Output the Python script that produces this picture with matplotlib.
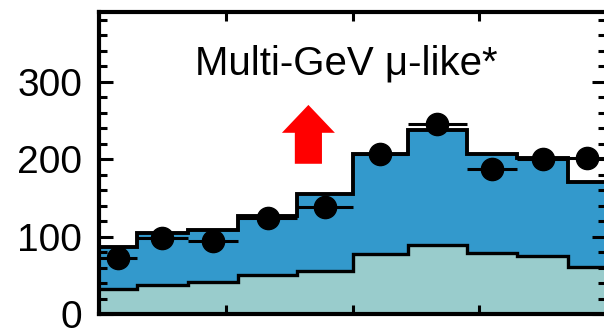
import matplotlib
matplotlib.use("Agg")
import matplotlib.pyplot as plt
from matplotlib.patches import FancyArrow
from matplotlib.ticker import MultipleLocator
import numpy as np

plt.rcParams['font.family'] = ['Liberation Sans', 'DejaVu Sans']

# bin edges in cos(zenith)
edges = [-1.0, -0.85, -0.65, -0.45, -0.22, 0.0, 0.22, 0.45, 0.65, 0.85, 1.0]
mc_total = [87, 104, 108, 127, 155, 206, 238, 207, 202, 170]
mc_lower = [32, 38, 41, 50, 55, 78, 89, 79, 75, 61]
data_vals = [72, 98, 94, 124, 138, 206, 245, 187, 200, 201]
ytick_vals = [0, 100, 200, 300]
title = "Multi-GeV \u03bc-like*"

BLUE = "#3399cc"
TEAL = "#99cccc"

W, H = 604, 331
fig = plt.figure(figsize=(W / 100, H / 100), dpi=100)
ax = fig.add_axes([99 / W, (H - 314) / H, (606 - 99) / W, (314 - 12) / H])

edges_a = np.array(edges)
centers = (edges_a[:-1] + edges_a[1:]) / 2
halfw = (edges_a[1:] - edges_a[:-1]) / 2

ax.stairs(mc_total, edges, baseline=mc_lower, fill=True, color=BLUE, lw=0, zorder=1)
ax.stairs(mc_lower, edges, baseline=0, fill=True, color=TEAL, lw=0, zorder=1)
ax.stairs(mc_total, edges, baseline=None, color="black", lw=2.8, zorder=2)
ax.stairs(mc_lower, edges, baseline=None, color="black", lw=2.4, zorder=2)

ax.errorbar(centers, data_vals, xerr=halfw, fmt="o", color="black",
            ms=16, elinewidth=2.2, capsize=0, zorder=4)

ax.text(-0.024, 309, title, ha="center", va="baseline", fontsize=29, zorder=5)

arrow = FancyArrow(-0.174, 194, 0, 76, width=0.107, head_width=0.209,
                   head_length=36, length_includes_head=True,
                   color="#ff0000", lw=0, zorder=5)
ax.add_patch(arrow)

ax.set_xlim(-1, 1)
ax.set_ylim(0, 390)
ax.set_xticks([-1, -0.5, 0, 0.5, 1])
ax.set_xticklabels([])
ax.set_yticks(ytick_vals)
ax.set_yticklabels([str(v) for v in ytick_vals])
ax.yaxis.set_minor_locator(MultipleLocator(20))

for s in ax.spines.values():
    s.set_linewidth(3)
ax.tick_params(axis="both", which="both", direction="in", top=True, right=True, width=2.2)
ax.tick_params(axis="y", which="major", length=10, labelsize=28, pad=12)
ax.tick_params(axis="y", which="minor", length=5.5)
ax.tick_params(axis="x", which="major", length=6.5)

fig.savefig("out.png", dpi=100)
